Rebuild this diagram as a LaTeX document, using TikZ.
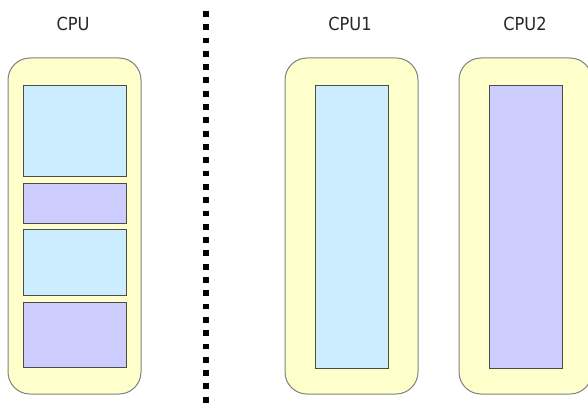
\documentclass[tikz,border=0pt]{standalone}
\usepackage{fontspec}
\setmainfont{DejaVu Sans Condensed}
\begin{document}
\begin{tikzpicture}[x=1pt,y=-1pt,
  outerbox/.style={draw=black!50, fill=yellowfill, rounded corners=22pt, line width=1pt},
  bluebox/.style={draw=black!70, fill=bluefill, line width=0.9pt},
  purplebox/.style={draw=black!70, fill=purplefill, line width=0.9pt},
  label/.style={font=\fontsize{18}{21}\selectfont, text=black!85},
  sep/.style={line width=5.8pt, dash pattern=on 5.8pt off 7.5pt}]
\definecolor{yellowfill}{HTML}{FFFFCC}
\definecolor{bluefill}{HTML}{CCECFF}
\definecolor{purplefill}{HTML}{CCCCFF}
\useasboundingbox (0,0) rectangle (588,409);
% left CPU
\node[label] (cpu) at (73,24) {CPU};
\draw[outerbox] (8,58) rectangle (141,394);
\draw[bluebox] (23,85) rectangle (126,176);
\draw[purplebox] (23,183) rectangle (126,223);
\draw[bluebox] (23,229) rectangle (126,295);
\draw[purplebox] (23,302) rectangle (126,367);
% separator
\coordinate (st) at (206,11);
\coordinate (en) at (206,409);
\draw[sep] (st) -- (en);
% CPU1
\node[label] (cpu1) at (350,24) {CPU1};
\draw[outerbox] (285,58) rectangle (418,394);
\draw[bluebox] (315,85) rectangle (388,368);
% CPU2
\node[label] (cpu2) at (525,24) {CPU2};
\draw[outerbox] (459,58) rectangle (592,394);
\draw[purplebox] (489,85) rectangle (562,368);
\end{tikzpicture}
\end{document}
